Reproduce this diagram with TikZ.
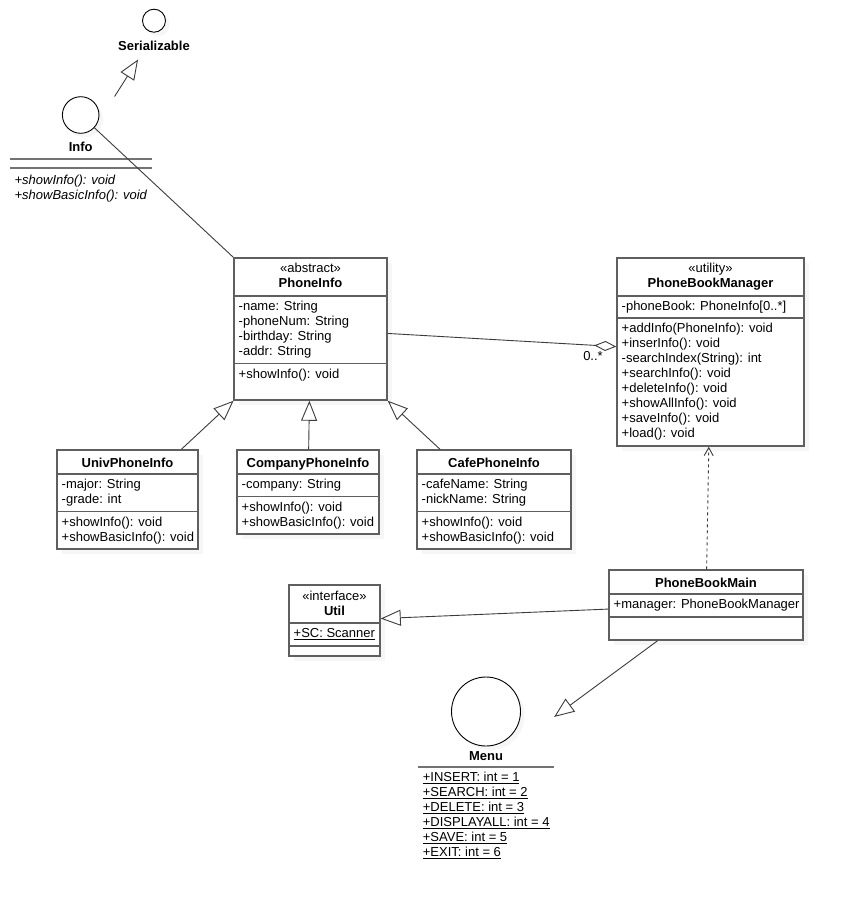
\documentclass[tikz,border=0pt]{standalone}
\usepackage{fontspec}
\setmainfont{Liberation Sans}
\usetikzlibrary{arrows.meta,shadows}
\definecolor{boxline}{RGB}{95,95,95}
\definecolor{conn}{RGB}{60,60,60}
\definecolor{rulegray}{RGB}{115,115,115}
\newcommand\umlfont{\fontsize{13}{15}\selectfont}

\begin{document}
\begin{tikzpicture}[x=1pt, y=-1pt, font=\umlfont,
  cls/.style={rectangle, draw=boxline, line width=1.5pt, fill=white, inner sep=0pt,
    drop shadow={shadow xshift=5pt, shadow yshift=-5pt, opacity=0.07}},
  lolli/.style={circle, draw=black, line width=0.9pt, fill=white, inner sep=0pt,
    drop shadow={shadow xshift=4pt, shadow yshift=-4pt, opacity=0.07}},
  elem/.style={rectangle, inner sep=0pt},
  hd/.style={inner sep=0pt, anchor=base, font=\umlfont},
  nm/.style={inner sep=0pt, anchor=base, font=\umlfont\bfseries},
  mem/.style={inner sep=0pt, anchor=north west, align=left, font=\umlfont},
  sepline/.style={draw=boxline, line width=1.5pt},
  rule/.style={draw=rulegray, line width=2pt},
  assoc/.style={draw=conn, line width=0.9pt},
  gen/.style={draw=conn, line width=0.9pt, -{Triangle[open, length=20pt, width=16pt]}},
  aggr/.style={draw=conn, line width=0.9pt, -{Diamond[open, length=22pt, width=10pt]}},
  dep/.style={draw=conn, line width=0.9pt, dash pattern=on 3pt off 3pt,
    -{Straight Barb[length=8pt, width=9pt]}}]
  \fill[white] (0,0) rectangle (844,905);
  \useasboundingbox (0,0) rectangle (844,905);

  % Serializable
  \node[lolli, minimum size=23pt] (serial) at (154,20.7) {};
  \node[nm] (serialname) at (154,50.3) {Serializable};
  \node[elem, minimum width=72pt, minimum height=50pt] (serialarea) at (154,34.3) {};

  % Info
  \node[lolli, minimum size=36.6pt] (info) at (80.7,115) {};
  \node[nm] (infoname) at (80.7,151.3) {Info};
  \draw[rule] (10,159) -- (152,159);
  \draw[rule] (10,168.3) -- (152,168.3);
  \node[mem, font=\umlfont\itshape] (infoops) at (14.4,174.8) {+showInfo(): void\\+showBasicInfo(): void};
  \node[elem, minimum width=142pt, minimum height=105.6pt] (infoarea) at (81,149.5) {};

  % PhoneInfo
  \node[cls, minimum width=153pt, minimum height=142pt] (pi) at (310.5,329) {};
  \node[hd] (pistereo) at (310.5,272.5) {«abstract»};
  \node[nm] (piname) at (310.5,287.5) {PhoneInfo};
  \draw[sepline] (234,296) -- (387,296);
  \node[mem] (piattr) at (238.5,301.1) {-name: String\\-phoneNum: String\\-birthday: String\\-addr: String};
  \draw[sepline] (234,363.5) -- (387,363.5);
  \node[mem] (piops) at (238.5,368.6) {+showInfo(): void};

  % PhoneBookManager
  \node[cls, minimum width=187pt, minimum height=188pt] (pbm) at (710.5,352) {};
  \node[hd] (pbmstereo) at (710.5,272.5) {«utility»};
  \node[nm] (pbmname) at (710.5,287.5) {PhoneBookManager};
  \draw[sepline] (617,296) -- (804,296);
  \node[mem] (pbmattr) at (621.5,301.1) {-phoneBook: PhoneInfo[0..*]};
  \draw[sepline] (617,318) -- (804,318);
  \node[mem] (pbmops) at (621.5,323.1) {+addInfo(PhoneInfo): void\\+inserInfo(): void\\-searchIndex(String): int\\+searchInfo(): void\\+deleteInfo(): void\\+showAllInfo(): void\\+saveInfo(): void\\+load(): void};

  % UnivPhoneInfo
  \node[cls, minimum width=141pt, minimum height=99pt] (univ) at (127.5,499.5) {};
  \node[nm] (univname) at (127.5,467.3) {UnivPhoneInfo};
  \draw[sepline] (57,474) -- (198,474);
  \node[mem] (univattr) at (61.5,479.1) {-major: String\\-grade: int};
  \draw[sepline] (57,511.5) -- (198,511.5);
  \node[mem] (univops) at (61.5,516.6) {+showInfo(): void\\+showBasicInfo(): void};

  % CompanyPhoneInfo
  \node[cls, minimum width=142pt, minimum height=84pt] (comp) at (308,492) {};
  \node[nm] (compname) at (308,467.3) {CompanyPhoneInfo};
  \draw[sepline] (237,474) -- (379,474);
  \node[mem] (compattr) at (241.5,479.1) {-company: String};
  \draw[sepline] (237,496.5) -- (379,496.5);
  \node[mem] (compops) at (241.5,501.6) {+showInfo(): void\\+showBasicInfo(): void};

  % CafePhoneInfo
  \node[cls, minimum width=154pt, minimum height=99pt] (cafe) at (494,499.5) {};
  \node[nm] (cafename) at (494,467.3) {CafePhoneInfo};
  \draw[sepline] (417,474) -- (571,474);
  \node[mem] (cafeattr) at (421.5,479.1) {-cafeName: String\\-nickName: String};
  \draw[sepline] (417,511.5) -- (571,511.5);
  \node[mem] (cafeops) at (421.5,516.6) {+showInfo(): void\\+showBasicInfo(): void};

  % Util
  \node[cls, minimum width=91pt, minimum height=71pt] (util) at (334.5,620.5) {};
  \node[hd] (utilstereo) at (334.5,600) {«interface»};
  \node[nm] (utilname) at (334.5,615) {Util};
  \draw[sepline] (289,623) -- (380,623);
  \node[mem] (utilattr) at (293.5,628.1) {\underline{+SC: Scanner}};
  \draw[sepline] (289,646) -- (380,646);

  % PhoneBookMain
  \node[cls, minimum width=194pt, minimum height=70pt] (pmain) at (706,605) {};
  \node[nm] (pmainname) at (706,587.3) {PhoneBookMain};
  \draw[sepline] (609,594) -- (803,594);
  \node[mem] (pmainattr) at (613.5,599.1) {+manager: PhoneBookManager};
  \draw[sepline] (609,617) -- (803,617);

  % Menu
  \node[lolli, minimum size=69pt] (menu) at (486,711.5) {};
  \node[nm] (menuname) at (486,760.3) {Menu};
  \draw[rule] (418,766.7) -- (554,766.7);
  \node[mem] (menuattr) at (422.7,772.3) {\underline{+INSERT: int = 1}\\\underline{+SEARCH: int = 2}\\\underline{+DELETE: int = 3}\\\underline{+DISPLAYALL: int = 4}\\\underline{+SAVE: int = 5}\\\underline{+EXIT: int = 6}};
  \node[elem, minimum width=136pt, minimum height=190pt] (menuarea) at (486,767) {};

  % connectors
  \draw[gen] (infoarea) -- (serialarea);
  \draw[assoc] (info) -- (pi.north west);
  \draw[gen] (univ) -- (pi);
  \draw[gen] (comp) -- (pi);
  \draw[gen] (cafe) -- (pi);
  \draw[aggr] (pi) -- (pbm);
  \node[hd] (mult) at (593,360.5) {0..*};
  \draw[dep] (pmain) -- (pbm);
  \draw[gen] (pmain) -- (util);
  \draw[gen] (pmain) -- (menuarea);
\end{tikzpicture}
\end{document}
